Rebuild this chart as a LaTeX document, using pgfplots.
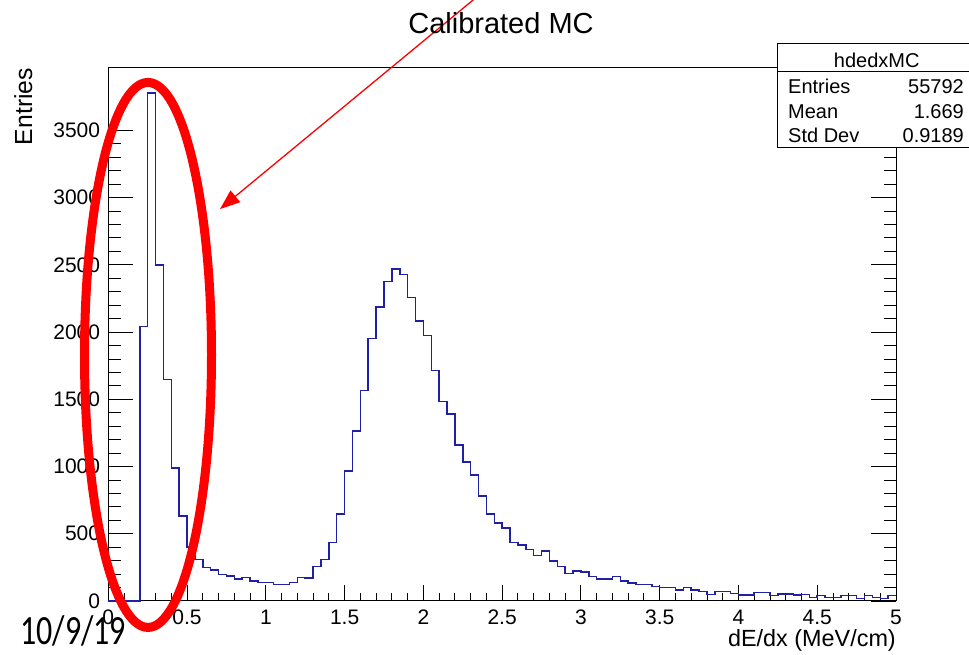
\documentclass[border=0pt]{standalone}
\usepackage{graphicx}
\usepackage{fontspec}
\setmainfont{Liberation Sans}
\newfontfamily\datefont{Carlito}
\usepackage{pgfplots}
\pgfplotsset{compat=1.18}
\usetikzlibrary{arrows.meta}
\definecolor{histblue}{RGB}{32,32,165}
\definecolor{rootred}{RGB}{255,0,0}
\pgfplotstableread{
x y
0.00 0
0.05 0
0.10 0
0.15 0
0.20 2040
0.25 3778
0.30 2500
0.35 1649
0.40 990
0.45 631
0.50 402
0.55 310
0.60 248
0.65 229
0.70 197
0.75 185
0.80 165
0.85 175
0.90 148
0.95 137
1.00 137
1.05 124
1.10 123
1.15 136
1.20 173
1.25 171
1.30 258
1.35 308
1.40 435
1.45 646
1.50 968
1.55 1264
1.60 1567
1.65 1954
1.70 2185
1.75 2376
1.80 2468
1.85 2430
1.90 2256
1.95 2083
2.00 1973
2.05 1713
2.10 1482
2.15 1390
2.20 1159
2.25 1035
2.30 936
2.35 780
2.40 646
2.45 581
2.50 543
2.55 435
2.60 415
2.65 382
2.70 340
2.75 372
2.80 298
2.85 258
2.90 204
2.95 223
3.00 214
3.05 184
3.10 162
3.15 162
3.20 184
3.25 149
3.30 132
3.35 122
3.40 122
3.45 108
3.50 100
3.55 100
3.60 82
3.65 100
3.70 82
3.75 69
3.80 50
3.85 69
3.90 69
3.95 57
4.00 45
4.05 45
4.10 62
4.15 62
4.20 40
4.25 52
4.30 52
4.35 45
4.40 47
4.45 27
4.50 40
4.55 27
4.60 27
4.65 40
4.70 40
4.75 20
4.80 40
4.85 27
4.90 20
4.95 40
5.00 40
}\histdata
\begin{document}
\begin{tikzpicture}
\path[use as bounding box] (0,0) rectangle (969pt,655pt);
\begin{axis}[
  at={(108.3pt,54pt)}, anchor=south west,
  scale only axis, width=787.7pt, height=533pt,
  xmin=0, xmax=5, ymin=0, ymax=3964,
  xtick={0,0.5,1,1.5,2,2.5,3,3.5,4,4.5,5},
  ytick={0,500,1000,1500,2000,2500,3000,3500},
  minor x tick num=4, minor y tick num=4,
  xtick pos=bottom, ytick pos=both,
  tick align=inside,
  xtick style={/pgfplots/major tick length=16pt, /pgfplots/minor tick length=8pt, black, line width=0.9pt},
  ytick style={/pgfplots/major tick length=25pt, /pgfplots/minor tick length=12.5pt, black, line width=0.9pt},
  axis line style={line width=1pt, black},
  ticklabel style={font=\fontsize{21}{21}\selectfont},
  /pgf/number format/assume math mode=true,
  /pgf/number format/1000 sep={},
  scaled ticks=false,
  xticklabel style={anchor=north, inner sep=0pt, yshift=-9pt},
  yticklabel style={anchor=east, inner sep=0pt, xshift=-8pt},
  clip=false,
]
\addplot[histblue, line width=1.5pt, const plot mark left] table[x=x, y=y] {\histdata};
\coordinate (ellc) at (axis cs:0.252,1830);
\coordinate (arrS) at (axis cs:2.347,4500);
\coordinate (arrT) at (axis cs:0.709,2915);
\end{axis}
% annotations
\draw[rootred, line width=9pt] (ellc) ellipse [x radius=63.5pt, y radius=272.5pt];
\draw[rootred, line width=1.3pt, -{Triangle[length=20pt,width=15pt]}] (arrS) -- (arrT);
% title and axis titles
\node[anchor=base, inner sep=0pt, font=\fontsize{29}{29}\selectfont] at (501pt,621.7pt) {Calibrated MC};
\node[anchor=base east, inner sep=0pt, font=\fontsize{23.4}{23.4}\selectfont] at (896pt,8pt) {dE/dx (MeV/cm)};
\node[rotate=90, anchor=base east, inner sep=0pt, font=\fontsize{24.7}{24.7}\selectfont] at (32pt,587pt) {Entries};
% stats box
\draw[fill=white, line width=1pt] (777.3pt,507.7pt) rectangle (975pt,611pt);
\draw[line width=1pt] (777.3pt,583.3pt) -- (975pt,583.3pt);
\begin{scope}[every node/.style={inner sep=0pt, font=\fontsize{20}{20}\selectfont}]
\node[anchor=base] at (876.7pt,587.7pt) {hdedxMC};
\node[anchor=base west] at (788pt,561.7pt) {Entries};
\node[anchor=base east] at (964pt,561.7pt) {55792};
\node[anchor=base west] at (788pt,536.7pt) {Mean};
\node[anchor=base east] at (964pt,536.7pt) {1.669};
\node[anchor=base west] at (788pt,512.3pt) {Std Dev};
\node[anchor=base east] at (964pt,512.3pt) {0.9189};
\end{scope}
\node[anchor=base west, inner sep=0pt, font=\datefont\fontsize{32}{32}\selectfont] at (20pt,10pt) {\scalebox{1}[1.3]{10/9/19}};
\end{tikzpicture}
\end{document}
